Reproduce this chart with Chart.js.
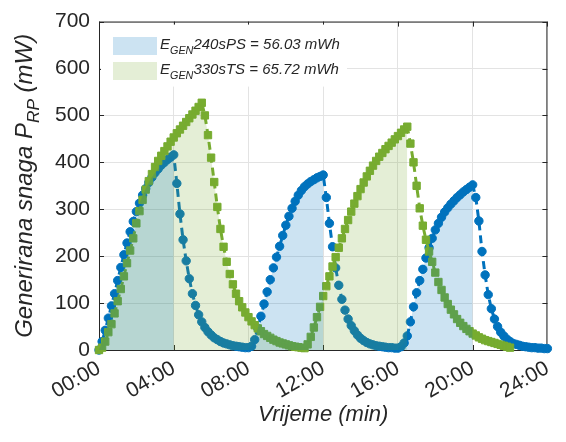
<!DOCTYPE html>
<html>
<head>
<meta charset="utf-8">
<script src="https://cdn.jsdelivr.net/npm/chart.js@4.4.1/dist/chart.umd.min.js"></script>
<style>
  html, body { margin: 0; padding: 0; background: #fff; }
</style>
</head>
<body>
<canvas id="chart" width="566" height="442"></canvas>
<script>
// uzorkovanje svakih 10 s
const samplesPerMin = 6;

const timeTicks = [0, 4, 8, 12, 16, 20, 24];
const timeTickLabels = ['00:00', '04:00', '08:00', '12:00', '16:00', '20:00', '24:00'];
const powerTicks = [0, 100, 200, 300, 400, 500, 600, 700];

// P_RP (mW), 240 s PS
const powerPS = [
  0,
  18, 42, 68, 94, 120, 148, 176, 203, 228, 252, 274, 295, 313, 330, 344, 357, 368, 378, 386, 394, 400, 406, 411, 416,
  355, 290, 235, 190, 152, 120, 95, 75, 60, 48, 39, 32, 26, 22, 18, 15, 13, 11, 9, 8, 7, 6, 5, 5,
  8, 22, 46, 72, 98, 124, 150, 175, 198, 221, 244, 266, 285, 302, 317, 330, 340, 348, 354, 359, 363, 367, 370, 373,
  325, 270, 220, 175, 138, 108, 85, 66, 52, 41, 32, 25, 20, 16, 13, 11, 9, 8, 7, 6, 5, 5, 4, 4,
  7, 15, 30, 60, 92, 122, 148, 172, 196, 218, 238, 256, 270, 283, 294, 303, 311, 318, 325, 331, 337, 342, 347, 352,
  325, 275, 210, 160, 118, 88, 66, 50, 38, 30, 23, 18, 14, 12, 10, 8, 7, 6, 5, 5, 4, 4, 3, 3
];

// P_RP (mW), 330 s TS
const powerTS = [
  0, 5, 18, 38, 55, 78, 104, 130, 157, 185, 212, 238, 270, 296, 320, 342, 360, 375, 390, 403,
  414, 424, 434, 444, 453, 462, 470, 478, 486, 494, 502, 510, 518, 527,
  500, 458, 410, 358, 305, 258, 220, 188, 162, 140, 120, 104, 91, 80, 70, 61, 53, 46, 40, 34,
  30, 26, 22, 19, 16, 14, 12, 10, 8, 7, 6, 5, 4,
  12, 28, 48, 70, 92, 115, 136, 157, 178, 198, 218, 238, 258, 277, 295, 312, 328, 343, 357, 370,
  382, 393, 403, 412, 420, 428, 435, 442, 449, 456, 463, 470, 476,
  440, 400, 350, 302, 265, 235, 210, 188, 165, 145, 128, 112, 98, 86, 76, 66, 58, 51, 45, 40,
  35, 31, 27, 24, 21, 19, 17, 15, 13, 11, 9, 7, 5
];

// intervali (min) ispod krivulje koji su osjenčani
const fillWindowsPS = [[0, 4], [8, 12], [16, 20]];
const fillWindowsTS = [[0, 16.5]];

const legendPS = [{ t: 'E' }, { t: 'GEN', sub: true }, { t: '240sPS = 56.03 mWh' }];
const legendTS = [{ t: 'E' }, { t: 'GEN', sub: true }, { t: '330sTS = 65.72 mWh' }];
const yTitle = [{ t: 'Generirana snaga P' }, { t: 'RP', sub: true }, { t: ' (mW)' }];
const xTitle = [{ t: 'Vrijeme (min)' }];

const blue = '#0072BD';
const green = '#77AC30';
const blueFill = 'rgba(0,114,189,0.2)';
const greenFill = 'rgba(119,172,48,0.2)';
const axisColor = '#262626';
const fontFamily = '"Liberation Sans", Arial, sans-serif';

const toPoints = (arr) => arr.map((v, i) => ({ x: i / samplesPerMin, y: v }));
const inWindows = (x, wins) => wins.some(([a, b]) => x >= a - 1e-9 && x <= b + 1e-9);
const toFill = (arr, wins) => toPoints(arr).map((p) => ({ x: p.x, y: inWindows(p.x, wins) ? p.y : null }));

function richWidth(ctx, parts, size) {
  let w = 0;
  for (const p of parts) {
    ctx.font = `italic ${p.sub ? size * 0.72 : size}px ${fontFamily}`;
    w += ctx.measureText(p.t).width;
  }
  return w;
}

function drawRich(ctx, x, y, parts, size) {
  let cx = x;
  ctx.textAlign = 'left';
  ctx.textBaseline = 'alphabetic';
  for (const p of parts) {
    ctx.font = `italic ${p.sub ? size * 0.72 : size}px ${fontFamily}`;
    ctx.fillText(p.t, cx, p.sub ? y + size * 0.3 : y);
    cx += ctx.measureText(p.t).width;
  }
}

const decor = {
  id: 'decor',
  beforeDatasetsDraw(chart) {
    const { ctx, chartArea: a, scales } = chart;
    ctx.save();
    ctx.strokeStyle = axisColor;
    ctx.lineWidth = 1;
    ctx.strokeRect(a.left + 0.5, a.top + 0.5, a.right - a.left - 1, a.bottom - a.top);
    ctx.beginPath();
    powerTicks.forEach((v) => {
      const y = Math.round(scales.y.getPixelForValue(v)) + 0.5;
      ctx.moveTo(a.left, y); ctx.lineTo(a.left + 5, y);
      ctx.moveTo(a.right, y); ctx.lineTo(a.right - 5, y);
    });
    timeTicks.forEach((v) => {
      const x = Math.round(scales.x.getPixelForValue(v)) + 0.5;
      ctx.moveTo(x, a.bottom); ctx.lineTo(x, a.bottom - 5);
      ctx.moveTo(x, a.top); ctx.lineTo(x, a.top + 5);
    });
    ctx.stroke();
    ctx.restore();
  },
  afterDraw(chart) {
    const { ctx, chartArea: a } = chart;
    ctx.save();
    // legenda
    ctx.fillStyle = '#fff';
    ctx.fillRect(a.left + 2, a.top + 3, 246, 62);
    ctx.fillStyle = blueFill;
    ctx.fillRect(113, 37, 44, 18);
    ctx.fillStyle = greenFill;
    ctx.fillRect(113, 62, 44, 18);
    ctx.fillStyle = axisColor;
    drawRich(ctx, 160, 49, legendPS, 15);
    drawRich(ctx, 160, 74, legendTS, 15);
    // naslov x osi
    const xs = 22;
    const xw = richWidth(ctx, xTitle, xs);
    drawRich(ctx, (a.left + a.right) / 2 - xw / 2, 421, xTitle, xs);
    // naslov y osi
    const ys = 24;
    const yw = richWidth(ctx, yTitle, ys);
    ctx.translate(32, (a.top + a.bottom) / 2);
    ctx.rotate(-Math.PI / 2);
    drawRich(ctx, -yw / 2, 0, yTitle, ys);
    ctx.restore();
  }
};

new Chart(document.getElementById('chart'), {
  type: 'line',
  data: {
    datasets: [
      {
        label: 'fillPS',
        data: toFill(powerPS, fillWindowsPS),
        borderWidth: 0,
        pointRadius: 0,
        backgroundColor: blueFill,
        fill: 'origin',
        order: 0,
      },
      {
        label: 'fillTS',
        data: toFill(powerTS, fillWindowsTS),
        borderWidth: 0,
        pointRadius: 0,
        backgroundColor: greenFill,
        fill: 'origin',
        order: 1,
      },
      {
        label: '330sTS',
        data: toPoints(powerTS),
        borderColor: green,
        borderWidth: 3,
        borderDash: [8, 5],
        pointStyle: 'rect',
        pointRadius: 5.2,
        pointBorderWidth: 1,
        pointBackgroundColor: green,
        pointBorderColor: green,
        fill: false,
        clip: 8,
        order: 2,
      },
      {
        label: '240sPS',
        data: toPoints(powerPS),
        borderColor: blue,
        borderWidth: 3,
        borderDash: [8, 5],
        pointStyle: 'circle',
        pointRadius: 4.2,
        pointBorderWidth: 1,
        pointBackgroundColor: blue,
        pointBorderColor: blue,
        fill: false,
        clip: 8,
        order: 3,
      },
    ],
  },
  options: {
    responsive: false,
    animation: false,
    devicePixelRatio: 1,
    layout: { padding: { top: 20, right: 10, left: 0, bottom: 0 } },
    plugins: {
      legend: { display: false },
      tooltip: { enabled: false },
    },
    scales: {
      x: {
        type: 'linear',
        min: 0,
        max: 24,
        afterFit: (s) => { s.height = 92; },
        afterBuildTicks: (s) => { s.ticks = timeTicks.map((v) => ({ value: v })); },
        grid: { color: '#e3e3e3', drawTicks: false },
        border: { display: false },
        ticks: {
          autoSkip: false,
          maxRotation: 30,
          minRotation: 30,
          padding: 6,
          color: axisColor,
          font: { family: fontFamily, size: 21 },
          callback: (v) => timeTickLabels[timeTicks.indexOf(v)],
        },
      },
      y: {
        min: 0,
        max: 700,
        afterFit: (s) => { s.width = 99; },
        afterBuildTicks: (s) => { s.ticks = powerTicks.map((v) => ({ value: v })); },
        grid: { color: '#e3e3e3', drawTicks: false },
        border: { display: false },
        ticks: {
          padding: 9,
          color: axisColor,
          font: { family: fontFamily, size: 21 },
        },
      },
    },
  },
  plugins: [decor],
});
</script>
</body>
</html>
